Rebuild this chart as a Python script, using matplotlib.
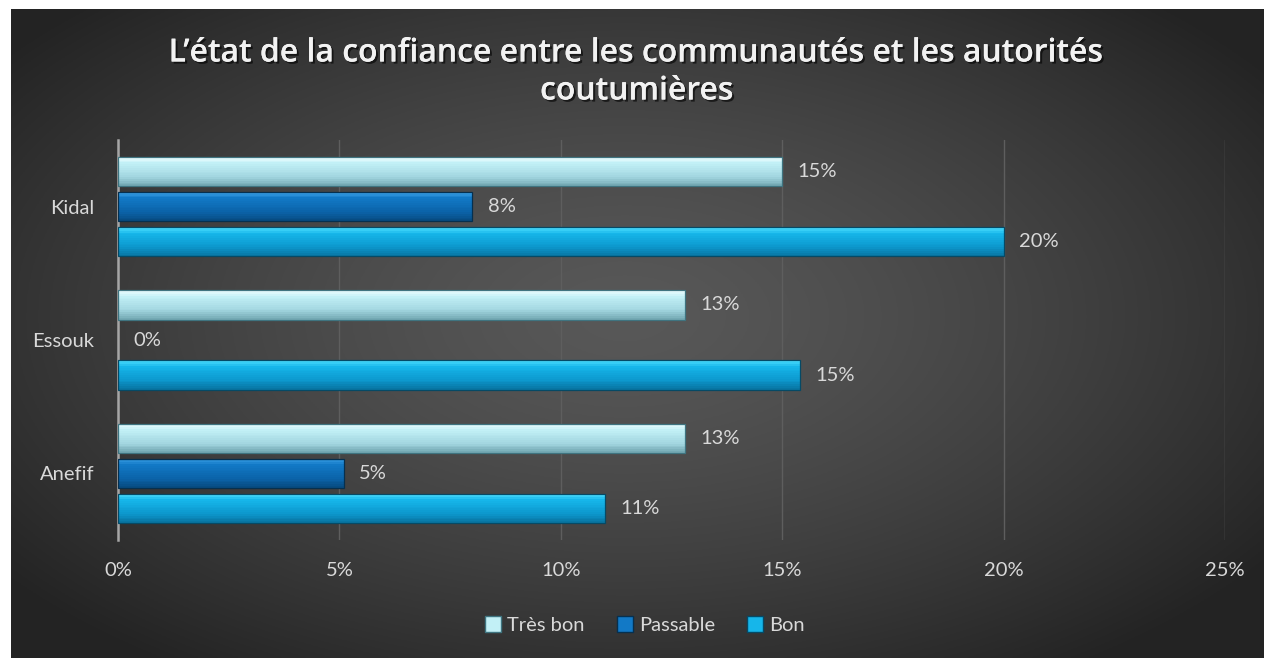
import numpy as np
import matplotlib
matplotlib.use("Agg")
import matplotlib.pyplot as plt
from matplotlib import patheffects
from matplotlib.colors import to_rgb
from matplotlib.patches import Patch
from matplotlib.ticker import FuncFormatter

# donnees (en %)
regions = ["Anefif", "Essouk", "Kidal"]
series = ["Très bon", "Passable", "Bon"]
tres_bon = [12.8, 12.8, 15.0]
passable = [5.1, 0.0, 8.0]
bon = [11.0, 15.4, 20.0]
x_ticks = [0, 5, 10, 15, 20, 25]

plt.rcParams["font.family"] = ["Lato", "DejaVu Sans"]

W, H = 1264, 658
fig = plt.figure(figsize=(W / 100, H / 100), dpi=100, facecolor="white")

# fond sombre avec degrade radial
bg = fig.add_axes([11 / W, 0, 1 - 11 / W, 1 - 9 / H], zorder=-10)
yy, xx = np.mgrid[-1:1:330j, -1:1:630j]
r = np.sqrt((xx + 0.02) ** 2 + (yy * 0.95 + 0.05) ** 2)
t = np.clip(r / 1.25, 0, 1) ** 1.4
c0, c1 = 0.345, 0.14
img = c0 + (c1 - c0) * t
bg.imshow(np.dstack([img, img, img]), aspect="auto", extent=[0, 1, 0, 1])
bg.axis("off")

ax = fig.add_axes([118 / W, 1 - 540 / H, (1225 - 118) / W, 400 / H])
ax.set_facecolor("none")

couleurs = {
    "Très bon": (["#effeff", "#c2f0f6", "#a2d6e0", "#6fa4af"], "#3f7480"),
    "Passable": (["#3a9fe6", "#1279c6", "#0b63a9", "#07497e"], "#06304f"),
    "Bon": (["#4fe0ff", "#16b6ea", "#0c97cd", "#08729f"], "#054a66"),
}


def degrade(stops, t):
    pos = [0, 0.22, 0.68, 1.0]
    rgb = np.array([to_rgb(c) for c in stops])
    return tuple(np.interp(t, pos, rgb[:, k]) for k in range(3))


y = np.arange(len(regions))
h = 0.22
step = 0.263
valeurs = [tres_bon, passable, bon]
offsets = [step, 0, -step]
n = 16

for nom, vals, off in zip(series, valeurs, offsets):
    stops, bord = couleurs[nom]
    vals = np.array(vals)
    for i in range(n):
        tt = (i + 0.5) / n
        yc = y + off + h / 2 - (i + 0.5) * h / n
        ax.barh(yc, vals, height=h / n * 1.05, left=0,
                color=degrade(stops, tt), linewidth=0, zorder=3)
    ax.barh(y + off, vals, height=h, left=0, fill=False,
            edgecolor=bord, linewidth=np.where(vals > 0, 0.9, 0), zorder=4)
    for yi, v in zip(y, vals):
        ax.annotate(f"{v:.0f}%", (v, yi + off), xytext=(11, 0),
                    textcoords="offset points", ha="left", va="center",
                    color="#d9d9d9", fontsize=14.5)

ax.set_xlim(0, 25)
ax.set_ylim(-0.5, 2.5)
ax.set_xticks(x_ticks)
ax.xaxis.set_major_formatter(FuncFormatter(lambda v, p: f"{v:.0f}%"))
ax.set_yticks(y)
ax.set_yticklabels(regions)
ax.tick_params(axis="both", length=0, colors="#d9d9d9", labelsize=14.5)
ax.tick_params(axis="x", pad=16)
ax.tick_params(axis="y", pad=17)
ax.grid(axis="x", color="#5e5e5e", linewidth=1, zorder=0)
for s in ["top", "right", "bottom"]:
    ax.spines[s].set_visible(False)
ax.spines["left"].set_color("#a6a6a6")
ax.spines["left"].set_linewidth(1.8)

titre = fig.text(637 / W, 1 - 72 / H,
                 "L’état de la confiance entre les communautés et les autorités\ncoutumières",
                 ha="center", va="center", fontsize=23, fontweight="semibold",
                 family=["Open Sans", "DejaVu Sans"],
                 color="#f2f2f2", linespacing=1.2)
titre.set_path_effects([patheffects.withSimplePatchShadow(offset=(1.5, -1.5), shadow_rgbFace="black", alpha=0.6),
                        patheffects.Normal()])

poignees = [Patch(facecolor=couleurs[s][0][1], edgecolor=couleurs[s][1]) for s in series]
leg = fig.legend(poignees, series, loc="center", bbox_to_anchor=(645 / W, 1 - 625 / H),
                 ncol=3, frameon=False, fontsize=14.5, labelcolor="#d9d9d9",
                 handlelength=0.8, handleheight=0.8, handletextpad=0.3, columnspacing=1.6)

fig.savefig("out.png", dpi=100, facecolor="white")
